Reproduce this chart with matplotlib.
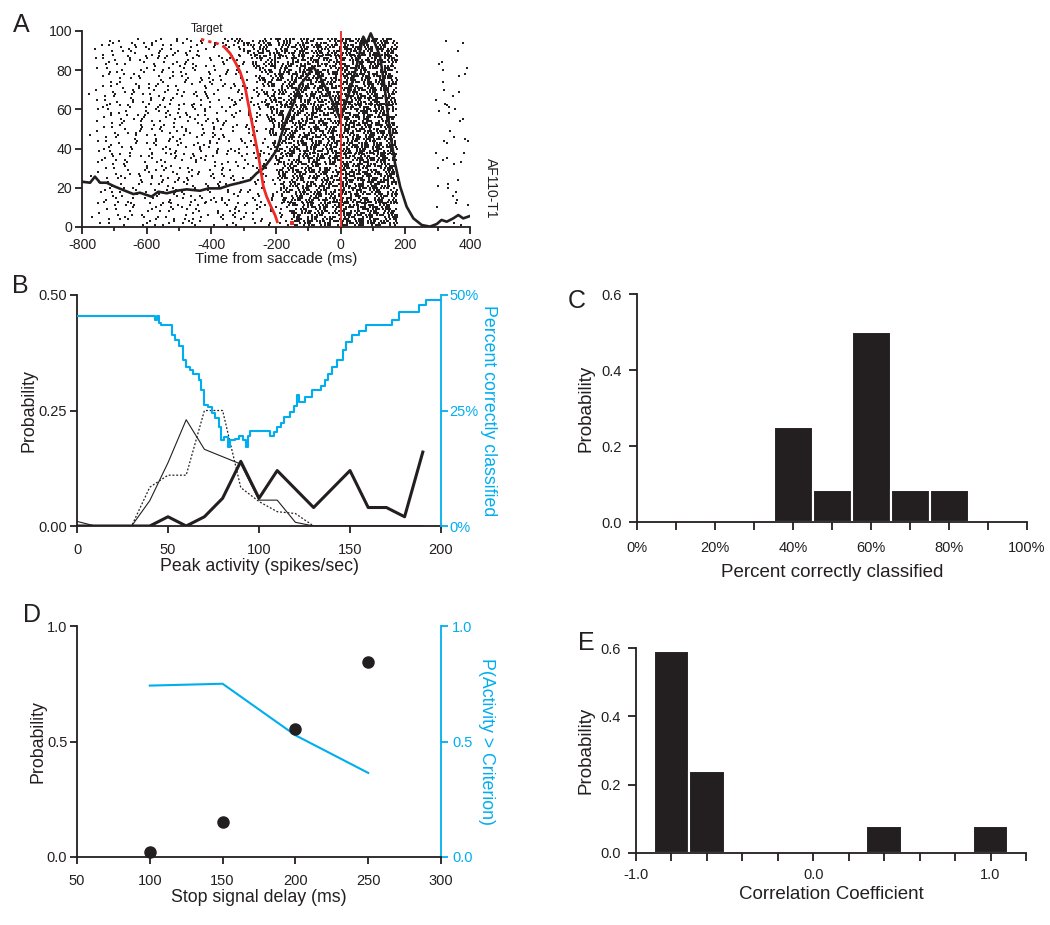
import numpy as np
import matplotlib
matplotlib.use('Agg')
import matplotlib.pyplot as plt
from matplotlib.ticker import MultipleLocator

plt.rcParams['font.family'] = ['Liberation Sans', 'DejaVu Sans']
plt.rcParams['axes.unicode_minus'] = False
INK = '#231F20'
BLUE = '#00AEEF'
RED = '#EE2A24'
TICK_FS = 10.5
LABEL_FS = 12.8
LETTER_FS = 18

# ---------------- Panel A data ----------------
SDF_T = [-800, -775, -760, -744, -724, -698, -667, -641, -621, -585, -564, -538, -507, -476,
         -435, -409, -373, -342, -311, -280, -260, -239, -219, -198, -182, -167, -146, -126,
         -105, -85, -64, -43, -23, -2, 8, 29, 49, 70, 80, 93, 106, 122, 137, 153, 168, 184,
         204, 225, 251, 276, 297, 312, 328, 348, 364, 379, 400]
SDF_V = [23.1, 22.6, 25.7, 22.6, 22.6, 20.6, 18.5, 16.8, 17.5, 15.5, 18.0, 17.2, 18.5, 19.2,
         18.5, 19.7, 19.7, 21.4, 22.6, 24.0, 27.4, 29.9, 34.2, 39.3, 47.8, 55.4, 63.1, 72.4,
         76.7, 81.8, 76.7, 69.9, 63.1, 55.4, 59.7, 69.9, 81.8, 97.1, 93.7, 98.8, 93.7, 86.9,
         69.9, 47.8, 32.5, 20.6, 10.4, 4.4, 1.0, 0.2, 1.5, 3.6, 2.7, 4.4, 6.1, 4.4, 5.6]
TARGET_TIME = [-432, -418, -404, -390, -378, -361, -342, -327, -311, -296, -286, -278, -268,
               -260, -252, -244, -239, -229, -213, -203, -196]
TARGET_TRIAL = [95.8, 95.2, 94.5, 94.0, 93.4, 92.0, 88.6, 84.3, 79.2, 71.6, 63.1, 56.3, 47.8,
                41.0, 34.2, 25.7, 20.6, 15.5, 9.5, 6.1, 2.7]
STRAY_TIME, STRAY_TRIAL = -151, 1.9
N_TRIALS = 96
PRE_RATE = 16          # spikes/s before the visual response of each trial
RATE_EDGES = [-800, -300, -250, -200, -150, -100, -50, 0, 50, 100, 150, 175, 295, 400]
RATE_POST = [55, 60, 62, 68, 75, 80, 78, 88, 95, 95, 75, 0, 5]

# ---------------- Panel B data ----------------
B_X = [0, 10, 20, 30, 40, 50, 60, 70, 80, 90, 100, 110, 120, 130, 140, 150, 160, 170, 180, 190]
B_THICK = [0, 0, 0, 0, 0, 0.02, 0, 0.02, 0.06, 0.14, 0.06, 0.12, 0.08, 0.04, 0.08, 0.12,
           0.04, 0.04, 0.02, 0.16]
B_THIN = [0.01, 0, 0, 0, 0.055, 0.137, 0.23, 0.166, 0.15, 0.134, 0.056, 0.056, 0.008, 0,
          0, 0, 0, 0, 0, 0]
B_DOTTED = [0, 0, 0, 0, 0.084, 0.11, 0.11, 0.25, 0.25, 0.083, 0.053, 0.031, 0.027, 0,
            0, 0, 0, 0, 0, 0]
B_PCT_X = [0, 43, 44, 45, 46, 52, 54, 56, 58, 60, 62, 64, 67, 68, 70, 72, 74, 76, 78, 79,
           81, 83, 84, 87, 89, 91, 93, 94, 95, 106, 108, 110, 112, 114, 117, 119, 121, 122,
           125, 129, 134, 136, 138, 140, 143, 146, 148, 151, 155, 159, 173, 177, 188, 192, 200]
B_PCT_Y = [45.5, 44.5, 45.5, 44.0, 43.5, 41.3, 40.3, 39.0, 36.0, 34.5, 33.8, 33.0, 31.6,
           29.4, 26.2, 25.8, 24.4, 23.3, 21.5, 18.6, 19.3, 17.2, 18.6, 18.8, 19.5, 18.6,
           17.2, 19.5, 20.6, 19.5, 20.4, 21.5, 22.2, 23.7, 24.7, 26.0, 28.4, 26.9, 28.0,
           29.4, 30.3, 31.6, 33.0, 34.5, 35.9, 38.0, 39.9, 41.3, 42.3, 43.5, 44.6, 46.4,
           47.8, 48.9, 48.9]

# ---------------- Panel C data ----------------
C_BIN = [40, 50, 60, 70, 80]
C_PROB = [0.25, 0.083, 0.5, 0.083, 0.083]

# ---------------- Panel D data ----------------
D_SSD = [100, 150, 200, 250]
D_PROB = [0.02, 0.152, 0.555, 0.843]
D_PACT = [0.742, 0.75, 0.527, 0.364]

# ---------------- Panel E data ----------------
E_BIN = [-0.8, -0.6, 0.4, 1.0]
E_PROB = [0.59, 0.24, 0.08, 0.08]

W, H = 1050, 925
fig = plt.figure(figsize=(W / 100, H / 100), dpi=100)


def add_ax(l, t, r, b):
    return fig.add_axes([l / W, 1 - b / H, (r - l) / W, (b - t) / H])


def style(ax, fs=TICK_FS, xpad=2, ypad=2, length=5):
    for s in ['top', 'right']:
        ax.spines[s].set_visible(False)
    for s in ['left', 'bottom']:
        ax.spines[s].set_linewidth(1.3)
        ax.spines[s].set_color(INK)
    ax.tick_params(which='both', direction='out', length=length, width=1.3,
                   labelsize=fs, colors=INK)
    ax.tick_params(axis='x', pad=xpad)
    ax.tick_params(axis='y', pad=ypad)


# ======================= Panel A =======================
axA = add_ax(82, 31, 470, 227)
style(axA, fs=10.2, xpad=3)
axA.set_xlim(-800, 400)
axA.set_ylim(0, 100)

# raster texture, derived from the rate table (deterministic quasi-uniform placement)
t_grid = np.arange(-800, 400, 1.0)
bin_idx = np.clip(np.searchsorted(RATE_EDGES, t_grid, side='right') - 1, 0, len(RATE_POST) - 1)
post_rate = np.asarray(RATE_POST, float)[bin_idx]
tt_sorted = np.array(TARGET_TRIAL[::-1])
tm_sorted = np.array(TARGET_TIME[::-1])
xs, ys = [], []
G1, G2 = 0.7548776662, 0.5698402910
for i in range(1, N_TRIALS + 1):
    tgt = np.interp(i, tt_sorted, tm_sorted)
    rate = np.where(t_grid < tgt + 50, PRE_RATE, post_rate)
    lam = np.cumsum(rate) / 1000.0
    k = np.arange(1, 120)
    u = np.clip(np.mod(0.5 + k * G1 + i * G2, 1.0), 0.001, 0.999)
    w = 0.35 + 0.65 * (-np.log(1 - u))
    thr = np.mod(i * 0.618034, 1.0) + np.cumsum(w)
    idx = np.searchsorted(lam, thr)
    idx = idx[idx < len(t_grid)]
    xs.extend(t_grid[idx])
    ys.extend([i] * len(idx))
axA.plot(xs, ys, ls='none', marker='s', ms=1.5, mew=0, color=INK, zorder=1)

axA.plot(SDF_T, SDF_V, color=INK, lw=1.9, zorder=3)
axA.plot(TARGET_TIME[:6], TARGET_TRIAL[:6], color=RED, lw=2, ls=(0, (1.2, 1.5)), zorder=4)
axA.plot(TARGET_TIME[5:], TARGET_TRIAL[5:], color=RED, lw=2, zorder=4)
axA.plot([STRAY_TIME], [STRAY_TRIAL], 's', ms=2.5, mew=0, color=RED, zorder=4)
axA.plot([0, 0], [0, 100], color=RED, lw=1.3, zorder=4)

axA.xaxis.set_major_locator(MultipleLocator(200))
axA.xaxis.set_minor_locator(MultipleLocator(100))
axA.yaxis.set_major_locator(MultipleLocator(20))
axA.tick_params(which='minor', length=3)
axA.set_xlabel('Time from saccade (ms)', fontsize=10.9, color=INK, labelpad=0)
fig.text(191 / W, 1 - 32 / H, 'Target', fontsize=8.5, color=INK, va='baseline')
fig.text(491 / W, 1 - 188 / H, 'AF110-T1', fontsize=10, color=INK, rotation=270,
         ha='center', va='center')

# ======================= Panel B =======================
axB = add_ax(77, 295, 441, 526)
style(axB, xpad=7)
axB.set_xlim(0, 200)
axB.set_ylim(0, 0.5)
axB.plot(B_X, B_THIN, color=INK, lw=0.8)
axB.plot(B_X, B_DOTTED, color=INK, lw=0.9, ls=(0, (1.5, 1.5)))
axB.plot(B_X, B_THICK, color=INK, lw=2.2)
axB.set_xticks([0, 50, 100, 150, 200])
axB.set_yticks([0, 0.25, 0.5])
axB.set_yticklabels(['0.00', '0.25', '0.50'])
axB.set_xlabel('Peak activity (spikes/sec)', fontsize=LABEL_FS, color=INK, labelpad=1)
axB.set_ylabel('Probability', fontsize=LABEL_FS, color=INK, labelpad=1)
tB = axB.twinx()
tB.set_ylim(0, 50)
for s in ['top', 'left', 'bottom']:
    tB.spines[s].set_visible(False)
tB.spines['right'].set_color(BLUE)
tB.spines['right'].set_linewidth(1.3)
tB.plot(B_PCT_X, B_PCT_Y, color=BLUE, lw=1.5, drawstyle='steps-post')
tB.set_yticks([0, 25, 50])
tB.set_yticklabels(['0%', '25%', '50%'])
tB.tick_params(direction='out', length=5, width=1.3, labelsize=TICK_FS, colors=BLUE, pad=1)
tB.set_ylabel('Percent correctly classified', fontsize=LABEL_FS, color=BLUE,
              rotation=270, labelpad=13)

# ======================= Panel C =======================
axC = add_ax(637, 294, 1027, 522)
style(axC, xpad=8, ypad=5, length=6)
axC.bar(C_BIN, C_PROB, width=10, color=INK, edgecolor='white', linewidth=1.5)
axC.set_xlim(0, 100)
axC.set_ylim(0, 0.6)
axC.set_xticks(np.arange(0, 101, 10))
axC.set_xticklabels([f'{v}%' if v % 20 == 0 else '' for v in range(0, 101, 10)])
axC.set_yticks([0, 0.2, 0.4, 0.6])
axC.set_yticklabels(['0.0', '0.2', '0.4', '0.6'])
axC.set_xlabel('Percent correctly classified', fontsize=13.5, color=INK, labelpad=6)
axC.set_ylabel('Probability', fontsize=13.5, color=INK, labelpad=5)

# ======================= Panel D =======================
axD = add_ax(77, 626, 441, 857)
style(axD, xpad=7)
axD.set_xlim(50, 300)
axD.set_ylim(0, 1.0)
axD.plot(D_SSD, D_PROB, 'o', ms=8, color=INK, zorder=5, clip_on=False)
axD.set_xticks([50, 100, 150, 200, 250, 300])
axD.set_yticks([0, 0.5, 1.0])
axD.set_yticklabels(['0.0', '0.5', '1.0'])
axD.set_xlabel('Stop signal delay (ms)', fontsize=LABEL_FS, color=INK, labelpad=1)
axD.set_ylabel('Probability', fontsize=LABEL_FS, color=INK, labelpad=0)
tD = axD.twinx()
tD.set_ylim(0, 1.0)
for s in ['top', 'left', 'bottom']:
    tD.spines[s].set_visible(False)
tD.spines['right'].set_color(BLUE)
tD.spines['right'].set_linewidth(1.3)
tD.plot(D_SSD, D_PACT, color=BLUE, lw=1.5)
tD.set_yticks([0, 0.5, 1.0])
tD.set_yticklabels(['0.0', '0.5', '1.0'])
tD.tick_params(direction='out', length=5, width=1.3, labelsize=TICK_FS, colors=BLUE, pad=3)
tD.set_ylabel('P(Activity > Criterion)', fontsize=LABEL_FS, color=BLUE,
              rotation=270, labelpad=16)
axD.set_zorder(tD.get_zorder() + 1)
axD.patch.set_visible(False)

# ======================= Panel E =======================
axE = add_ax(636, 648, 1026, 853)
style(axE, xpad=5, ypad=5, length=6)
axE.bar(E_BIN, E_PROB, width=0.2, color=INK, edgecolor='white', linewidth=1.5)
axE.set_xlim(-1.0, 1.2)
axE.set_ylim(0, 0.6)
e_ticks = np.round(np.arange(-1.0, 1.21, 0.2), 1)
axE.set_xticks(e_ticks)
axE.set_xticklabels([f'{v + 0.0:.1f}' if abs(v - round(v)) < 1e-9 else '' for v in e_ticks])
axE.set_yticks([0, 0.2, 0.4, 0.6])
axE.set_yticklabels(['0.0', '0.2', '0.4', '0.6'])
axE.set_xlabel('Correlation Coefficient', fontsize=13.5, color=INK, labelpad=3)
axE.set_ylabel('Probability', fontsize=13.5, color=INK, labelpad=4)

# panel letters
for letter, (px, py) in {'A': (13, 32), 'B': (12, 293), 'C': (568, 308),
                         'D': (23, 622), 'E': (578, 650)}.items():
    fig.text(px / W, 1 - py / H, letter, fontsize=LETTER_FS, color=INK, va='baseline')

fig.savefig('out.png', dpi=100)
